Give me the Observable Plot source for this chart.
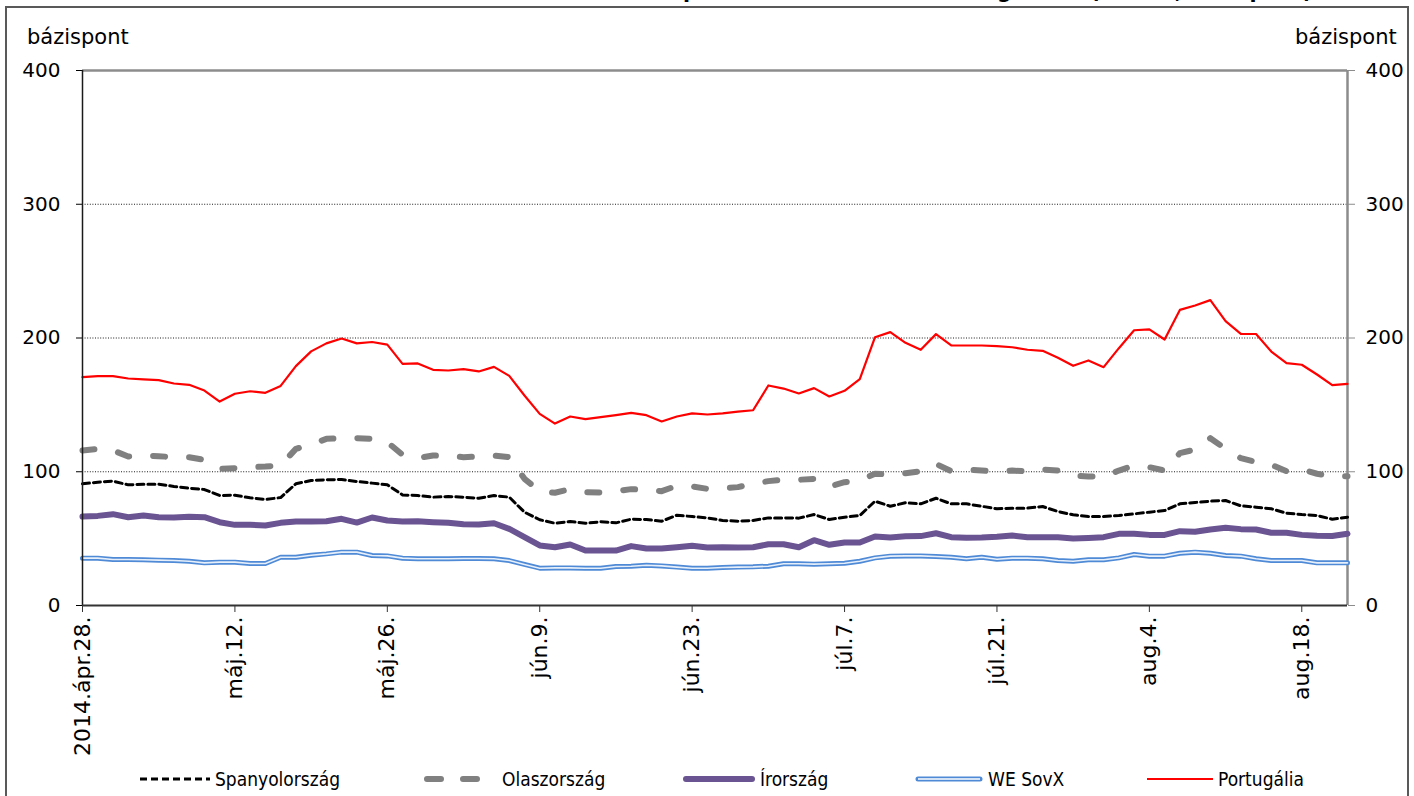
<!DOCTYPE html>
<html>
<head>
<meta charset="utf-8">
<script src="https://cdn.jsdelivr.net/npm/d3@7"></script>
<script src="https://cdn.jsdelivr.net/npm/@observablehq/plot@0.6"></script>
<style>
  html, body { margin: 0; padding: 0; background: #fff; }
  #wrap { position: relative; width: 1414px; height: 796px; overflow: hidden; font-family: "DejaVu Sans", sans-serif; }
  #frame { position: absolute; left: 5px; top: 6px; width: 1404px; height: 820px; border: 2px solid #595959; box-sizing: border-box; }
  #title { position: absolute; top: -19.5px; left: 0; white-space: nowrap; font: bold 20.6px "DejaVu Sans", sans-serif; line-height: 20.6px; color: #000; }
  .ylab { position: absolute; top: 24px; font-size: 21px; line-height: 26px; color: #000; }
  #chart { position: absolute; left: 0; top: 0; }
  .leg { position: absolute; top: 768px; height: 22px; display: flex; align-items: center; font: 19px "DejaVu Sans Condensed", "DejaVu Sans", sans-serif; color: #000; }
  .leg svg { margin-right: 4px; }
</style>
</head>
<body>
<div id="wrap">
  <div id="frame"></div>
  <div id="title">Szuverén CDS-felárak a <span id="pmark">p</span>eriféria euroövezeti országokban (5 éves, bázispont)</div>
  <div class="ylab" style="left:27px">bázispont</div>
  <div class="ylab" style="left:1295px">bázispont</div>
  <div id="chart"></div>
</div>
<script>
// Business-day index 0..83 (2014. ápr. 28. – aug. 21.)
const xTickPositions = [0, 10, 20, 30, 40, 50, 60, 70, 80];
const xTickLabels = ["2014.ápr.28.", "máj.12.", "máj.26.", "jún.9.", "jún.23.", "júl.7.", "júl.21.", "aug.4.", "aug.18."];
const yTicks = [0, 100, 200, 300, 400];

const seriesNames = ["Spanyolország", "Olaszország", "Írország", "WE SovX", "Portugália"];

const spanyol = [91, 92.2, 93, 90.2, 90.7, 90.7, 89, 87.7, 86.7, 82.2, 82.5, 80.5, 79.3, 80.7, 91, 93.5, 94, 94.2, 92.7, 91.5, 90.2, 82.7, 82.2, 81, 81.5, 81, 80.2, 82.2, 81, 69.8, 64.1, 61.5, 62.8, 61.5, 62.6, 61.8, 64.5, 64.3, 63, 67.5, 66.5, 65.5, 63.6, 63, 63.6, 65.5, 65.5, 65.3, 68, 64.3, 66, 67.3, 78, 74.2, 76.8, 76, 80.2, 76, 76, 74.2, 72.3, 72.8, 72.8, 74, 70.3, 67.8, 66.5, 66.5, 67.3, 68.5, 69.8, 71, 76, 77, 78, 78.5, 74.5, 73.5, 72.3, 69, 68, 67.3, 64.5, 66];

const olasz = [115.9, 117.1, 116, 111.4, 112.1, 111.6, 110.9, 110.9, 108.9, 102.2, 102.7, 103.4, 103.9, 104.7, 117.1, 120.4, 124.6, 125.1, 125.1, 124.6, 122.1, 112.7, 110.2, 112.1, 111.9, 110.9, 111.4, 112.1, 110.9, 94.7, 85.5, 84.3, 87, 84.7, 84.5, 85.5, 87, 86.5, 85.5, 89.5, 89, 87.2, 87.7, 88.5, 91, 93, 94.2, 94, 94.7, 89, 92.2, 93.5, 98.5, 97.9, 98.9, 100.4, 105.9, 100.4, 101.7, 100.9, 100.2, 100.9, 100.2, 101.7, 100.9, 97.2, 96.4, 96.4, 100.9, 104.7, 103.4, 100.9, 113.9, 116.6, 125.1, 117.1, 110.2, 107.2, 105.2, 100.4, 101.7, 98.5, 96.7, 96.7];

const ir = [66.5, 67, 68.3, 66, 67.3, 66, 65.8, 66.3, 66, 62.3, 60.3, 60.3, 59.8, 61.8, 62.8, 62.8, 63, 64.8, 62, 65.8, 63.6, 62.8, 63, 62.3, 61.8, 60.8, 60.6, 61.5, 57.3, 51.1, 44.9, 43.6, 45.6, 41.1, 41.1, 41.1, 44.4, 42.6, 42.6, 43.6, 44.6, 43.4, 43.6, 43.4, 43.6, 45.8, 45.8, 43.6, 48.8, 45.4, 47.1, 47.1, 51.6, 50.8, 51.8, 51.9, 54, 51.1, 50.6, 50.8, 51.4, 52.3, 51.1, 51.1, 51.1, 50.1, 50.5, 51.1, 53.6, 53.6, 52.8, 52.8, 55.6, 55.1, 56.8, 58.1, 57.1, 56.8, 54.4, 54.4, 52.8, 52.1, 52, 53.6];

const weSovx = [35.4, 35.4, 34.4, 34.4, 34.2, 33.9, 33.6, 33.1, 31.9, 32.4, 32.4, 31.4, 31.4, 36.1, 36.1, 37.6, 38.6, 39.9, 39.9, 37.4, 37.1, 35.4, 34.9, 34.9, 34.9, 35.1, 35.1, 34.9, 33.6, 30.7, 27.9, 28.1, 28.1, 27.9, 27.9, 29.2, 29.4, 30.1, 29.6, 28.7, 27.9, 27.9, 28.4, 28.7, 28.9, 29.4, 31.2, 31.2, 30.9, 31.2, 31.6, 33.1, 35.6, 36.9, 37.1, 37.1, 36.6, 36.1, 34.9, 36.1, 34.6, 35.4, 35.4, 34.9, 33.6, 33.1, 34.2, 34.2, 35.6, 38.1, 36.9, 36.9, 39.1, 39.9, 39.1, 37.4, 36.9, 34.9, 33.6, 33.6, 33.6, 31.9, 31.9, 31.9];

const portugal = [170.7, 171.5, 171.5, 169.7, 169, 168.5, 166, 165, 160.7, 152.5, 158.3, 160.2, 159, 164.2, 179, 190, 196, 199.6, 196, 197, 195, 180.7, 181, 176.2, 175.7, 176.7, 175, 178.4, 171.7, 157, 143.3, 136, 141.3, 139.3, 140.8, 142.3, 144, 142.3, 137.6, 141.3, 143.6, 142.8, 143.6, 145, 146, 164.5, 162.2, 158.5, 162.5, 156.3, 160.5, 169.2, 200.6, 204.4, 196.4, 191.2, 202.9, 194.4, 194.4, 194.4, 193.9, 193.1, 191.2, 190.4, 185.2, 179.2, 183.2, 178.2, 192.4, 205.8, 206.4, 198.9, 221, 224.3, 228.3, 212.6, 203.1, 203, 189.9, 181.2, 180, 172.7, 164.7, 165.7];

const toRows = (arr) => arr.map((v, i) => ({ i, v }));
const lastIdx = portugal.length - 1;

const chart = Plot.plot({
  width: 1414,
  height: 796,
  marginLeft: 82,
  marginRight: 67,
  marginTop: 70,
  marginBottom: 191,
  style: { fontFamily: "DejaVu Sans, sans-serif", background: "transparent", overflow: "visible" },
  x: { domain: [0, lastIdx], axis: null },
  y: { domain: [0, 400], axis: null },
  marks: [
    Plot.ruleY([100, 200, 300], { stroke: "#000", strokeWidth: 0.9, strokeDasharray: "1,1.6" }),
    Plot.ruleY([400], { stroke: "#8c8c8c", strokeWidth: 2.5 }),
    Plot.ruleX([lastIdx], { stroke: "#8c8c8c", strokeWidth: 2.5 }),
    Plot.axisY({ anchor: "left", ticks: yTicks, tickSize: 6, tickPadding: 16, fontSize: 20, stroke: "#000", label: null }),
    Plot.axisY({ anchor: "right", ticks: yTicks, tickSize: 7, tickPadding: 11, fontSize: 20, stroke: "#8c8c8c", fill: "#000", label: null }),
    Plot.axisX({ ticks: xTickPositions, tickFormat: (d) => xTickLabels[xTickPositions.indexOf(d)], tickRotate: -90, tickSize: 7, tickPadding: 4, fontSize: 22, stroke: "#333", fill: "#000", label: null }),
    Plot.line(toRows(spanyol), { x: "i", y: "v", stroke: "#000", strokeWidth: 3, strokeDasharray: "7,4" }),
    Plot.line(toRows(olasz), { x: "i", y: "v", stroke: "#808080", strokeWidth: 6, strokeDasharray: "12,24", strokeLinecap: "round" }),
    Plot.line(toRows(ir), { x: "i", y: "v", stroke: "#6a5492", strokeWidth: 6 }),
    Plot.line(toRows(weSovx), { x: "i", y: "v", stroke: "#4f8ad6", strokeWidth: 5 }),
    Plot.line(toRows(weSovx), { x: "i", y: "v", stroke: "#e6effa", strokeWidth: 1.6 }),
    Plot.line(toRows(portugal), { x: "i", y: "v", stroke: "#ff0000", strokeWidth: 2.2 }),
    Plot.ruleX([0], { stroke: "#1a1a1a", strokeWidth: 1.5 }),
    Plot.ruleY([0], { stroke: "#333", strokeWidth: 2 })
  ]
});
document.getElementById("chart").appendChild(chart);

// Legend
const legendLeft = [140, 423, 683, 915, 1147];
const legendWidth = [70, 68, 72, 68, 66];
const swatch = (k, w) => {
  const y = 11;
  if (k === 0) return `<line x1="0" x2="${w}" y1="${y}" y2="${y}" stroke="#000" stroke-width="3" stroke-dasharray="7,4"/>`;
  if (k === 1) return `<line x1="4" x2="${w - 4}" y1="${y}" y2="${y}" stroke="#808080" stroke-width="6" stroke-dasharray="14,22" stroke-linecap="round"/>`;
  if (k === 2) return `<line x1="3" x2="${w - 3}" y1="${y}" y2="${y}" stroke="#6a5492" stroke-width="6" stroke-linecap="round"/>`;
  if (k === 3) return `<line x1="3" x2="${w - 3}" y1="${y}" y2="${y}" stroke="#4f8ad6" stroke-width="5" stroke-linecap="round"/><line x1="3" x2="${w - 3}" y1="${y}" y2="${y}" stroke="#ffffff" stroke-width="1.6"/>`;
  return `<line x1="0" x2="${w}" y1="${y}" y2="${y}" stroke="#ff0000" stroke-width="2.2"/>`;
};
seriesNames.forEach((name, k) => {
  const d = document.createElement("div");
  d.className = "leg";
  d.style.left = legendLeft[k] + "px";
  const w = legendWidth[k];
  d.innerHTML = `<svg width="${w}" height="22">${swatch(k, w)}</svg><span style="margin-left:${k === 1 ? 7 : 1}px">${name}</span>`;
  document.getElementById("wrap").appendChild(d);
});

// Position the (mostly cropped) title so its first "p" sits near x=690
const t = document.getElementById("title");
const pm = document.getElementById("pmark").getBoundingClientRect();
t.style.left = (683 - pm.left) + "px";
</script>
</body>
</html>
